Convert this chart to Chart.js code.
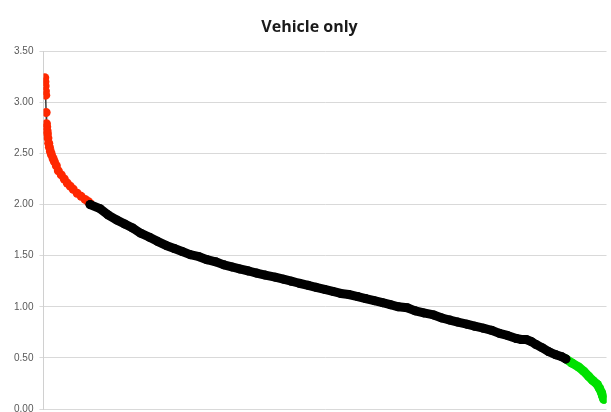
<!DOCTYPE html>
<html>
<head>
<meta charset="utf-8">
<script src="https://cdn.jsdelivr.net/npm/chart.js@4/dist/chart.umd.min.js"></script>
<style>
  html, body { margin: 0; padding: 0; background: #fff; overflow: hidden; }
  #wrap { width: 611px; height: 412px; overflow: hidden; }
</style>
</head>
<body>
<div id="wrap"><canvas id="c" width="611" height="421"></canvas></div>
<script>
// Title and tick labels
const chartTitle = 'Vehicle only';
const yTicks = [0, 0.5, 1.0, 1.5, 2.0, 2.5, 3.0, 3.5];

// Rank (position along the sorted list) and value for each group
const redRank  = [1.3, 1.5, 1.7, 2.0, 2.3, 2.7, 3.0, 3.3, 3.7, 4.0, 4.5, 5.3, 6.0, 7.0, 8.0, 9.7, 11, 13, 15, 18, 21, 24, 27, 30, 34, 38, 42, 45, 47];
const redVal   = [3.24, 3.20, 3.16, 3.11, 3.07, 2.90, 2.79, 2.76, 2.72, 2.69, 2.65, 2.60, 2.56, 2.52, 2.49, 2.45, 2.42, 2.38, 2.33, 2.29, 2.25, 2.21, 2.18, 2.15, 2.11, 2.08, 2.05, 2.03, 2.01];

const blackRank = [47, 57, 65, 73.7, 82, 90, 98, 107, 115, 123.7, 132, 140, 148, 157, 165, 173.7, 182, 190, 198, 207, 215, 223.7, 233.7, 242, 250, 258, 267, 275, 283.7, 292, 300, 308, 317, 325, 333.7, 342, 350, 358, 367, 375, 383.7, 393.7, 402, 410, 418, 427, 435, 443.7, 452, 460, 468, 477, 482, 487, 492, 497, 503, 510, 517, 523, 527];
const blackVal  = [2.00, 1.96, 1.90, 1.85, 1.81, 1.77, 1.72, 1.68, 1.64, 1.60, 1.57, 1.54, 1.51, 1.49, 1.46, 1.44, 1.41, 1.39, 1.37, 1.35, 1.33, 1.31, 1.29, 1.27, 1.25, 1.23, 1.21, 1.19, 1.17, 1.15, 1.13, 1.12, 1.10, 1.08, 1.06, 1.04, 1.02, 1.00, 0.99, 0.96, 0.94, 0.92, 0.89, 0.87, 0.85, 0.83, 0.81, 0.79, 0.77, 0.74, 0.72, 0.69, 0.68, 0.68, 0.66, 0.63, 0.60, 0.56, 0.53, 0.51, 0.49];

const greenRank = [527, 533, 540, 545, 550, 554, 558.7, 561, 563, 564, 565.3];
const greenVal  = [0.49, 0.45, 0.41, 0.37, 0.32, 0.28, 0.24, 0.20, 0.16, 0.13, 0.095];

const toPts = (xs, ys) => xs.map((x, i) => ({ x: x, y: ys[i] }));

const RED = 'rgb(255,40,0)';
const GREEN = 'rgb(0,225,0)';
const BLACK = '#000000';

new Chart(document.getElementById('c'), {
  type: 'scatter',
  data: {
    datasets: [
      {
        data: toPts(blackRank, blackVal),
        showLine: true,
        borderColor: BLACK,
        borderWidth: 9,
        borderCapStyle: 'round',
        borderJoinStyle: 'round',
        pointRadius: 4.5,
        pointBorderWidth: 0,
        pointBackgroundColor: BLACK
      },
      {
        data: toPts(greenRank, greenVal),
        showLine: true,
        borderColor: GREEN,
        borderWidth: 9,
        borderCapStyle: 'round',
        borderJoinStyle: 'round',
        pointRadius: 4.5,
        pointBorderWidth: 0,
        pointBackgroundColor: GREEN
      },
      {
        data: toPts(redRank, redVal),
        showLine: true,
        borderColor: '#3a3a3a',
        borderWidth: 1.5,
        pointRadius: 4.5,
        pointBorderWidth: 0,
        pointBackgroundColor: RED
      }
    ]
  },
  options: {
    responsive: false,
    animation: false,
    events: [],
    layout: { padding: { left: 8, right: 0, top: 0, bottom: 0 } },
    plugins: {
      legend: { display: false },
      tooltip: { enabled: false },
      title: {
        display: true,
        text: chartTitle,
        color: '#1a1a1a',
        font: { family: 'Open Sans', size: 16, weight: 'bold' },
        padding: { top: 18, bottom: 14 }
      }
    },
    scales: {
      x: {
        type: 'linear',
        display: false,
        min: 0,
        max: 568
      },
      y: {
        min: 0,
        max: 3.5,
        afterBuildTicks: (s) => { s.ticks = yTicks.map(v => ({ value: v })); },
        ticks: {
          color: '#595959',
          font: { family: 'Liberation Sans', size: 10 },
          padding: 6,
          callback: (v) => Number(v).toFixed(2)
        },
        grid: { color: '#d9d9d9', lineWidth: 1, tickLength: 4 },
        border: { color: '#d0d0d0', width: 1 }
      }
    }
  }
});
</script>
</body>
</html>
